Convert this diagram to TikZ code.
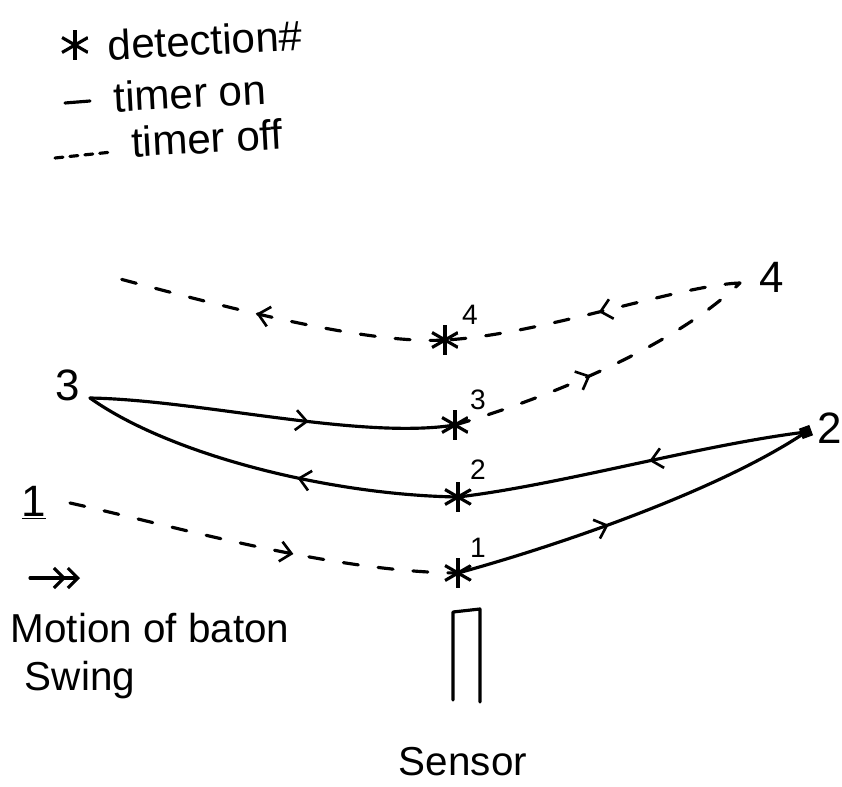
\documentclass[tikz,border=0pt]{standalone}
\usepackage{fontspec}
\setmainfont{Liberation Sans}
\usepackage{tikz}
\usetikzlibrary{positioning,arrows.meta,decorations.markings,calc}
\tikzset{
  det/.style={circle, inner sep=0pt, minimum size=6mm, path picture={
      \foreach \a in {90,30,-30}
        \draw[line width=1.8pt] ($(path picture bounding box.center)+(\a:3mm)$) -- ($(path picture bounding box.center)+(\a+180:3mm)$);}},
  dot/.style={rectangle, fill=black, inner sep=0pt, minimum size=2.2mm, rotate=20},
  num/.style={font=\fontsize{16}{18}\selectfont, inner sep=1pt},
  big/.style={font=\fontsize{25}{29}\selectfont, inner sep=1pt},
  txt/.style={font=\fontsize{23}{27}\selectfont, inner sep=0pt},
  key/.style={font=\fontsize{24}{28}\selectfont, inner sep=0pt, rotate=3},
  tmon/.style={line width=1.8pt, line cap=round},
  tmoff/.style={line width=1.8pt, line cap=round, dash pattern=on 3mm off 4mm},
  midarr/.style={postaction={decorate}, decoration={markings, mark=at position #1 with {\arrow[solid]{Straight Barb[length=2.2mm, width=4mm, line width=1.5pt]}}}},
}
\begin{document}
\begin{tikzpicture}[x=0.02cm, y=-0.02cm]
  \useasboundingbox (0,0) rectangle (842,787);
  \node[det] (k1) at (75,45) {};
  \node[key] (kt1) at (205,40) {detection\#};
  \coordinate (k2a) at (65,103);
  \coordinate (k2b) at (90,101);
  \draw[tmon] (k2a) -- (k2b);
  \node[key] (kt2) at (190,93) {timer on};
  \coordinate (k3a) at (55,158);
  \coordinate (k3b) at (112,152);
  \draw[tmon, dash pattern=on 1.6mm off 1.4mm] (k3a) -- (k3b);
  \node[key] (kt3) at (207,138) {timer off};

  \node[det] (d1) at (458,573) {};
  \node[det] (d2) at (458,497) {};
  \node[det] (d3) at (455,425) {};
  \node[det] (d4) at (445,340) {};
  \node[num] (n1) at (478,548) {1};
  \node[num] (n2) at (478,470) {2};
  \node[num] (n3) at (478,400) {3};
  \node[num] (n4) at (470,315) {4};

  \coordinate (p1) at (70,503);
  \node[dot] (p2) at (806,432) {};
  \coordinate (p3) at (90,398);
  \coordinate (p4) at (740,283);
  \coordinate (p5) at (105,275);
  \node[big] (l1) at (34,503) {\underline{1}};
  \node[big] (l2) at (830,428) {2};
  \node[big] (l3) at (68,385) {3};
  \node[big] (l4) at (772,277) {4};

  \draw[tmoff, midarr=0.58] (p1) .. controls (170,525) and (330,572) .. (d1.center);
  \draw[tmon, midarr=0.42] (d1.center) .. controls (560,545) and (720,490) .. (p2.center);
  \draw[tmon, midarr=0.45] (p2.center) .. controls (700,445) and (560,485) .. (d2.center);
  \draw[tmon, midarr=0.42] (d2.center) .. controls (330,495) and (170,455) .. (p3);
  \draw[tmon, midarr=0.6] (p3) .. controls (200,400) and (360,440) .. (d3.center);
  \draw[tmoff, midarr=0.45] (d3.center) .. controls (540,400) and (670,350) .. (p4);
  \draw[tmoff, midarr=0.48] (p4) .. controls (680,285) and (540,335) .. (d4.center);
  \draw[tmoff, midarr=0.55] (d4.center) .. controls (360,345) and (200,300) .. (p5);

  \coordinate (a1) at (30,578);
  \coordinate (a2) at (80,578);
  \draw[tmon, -{Straight Barb[length=2mm, width=4mm]Straight Barb[length=2mm, width=4mm]}] (a1) -- (a2);
  \node[txt] (motion) at (150,628) {Motion of baton};
  \node[txt] (swing) at (80,680) {Swing};

  \coordinate (s1) at (453,700);
  \coordinate (s2) at (453,612);
  \coordinate (s3) at (480,609);
  \coordinate (s4) at (480,702);
  \draw[tmon, line join=round] (s1) -- (s2) -- (s3) -- (s4);
  \node[txt] (sensor) at (463,762) {Sensor};
\end{tikzpicture}
\end{document}
